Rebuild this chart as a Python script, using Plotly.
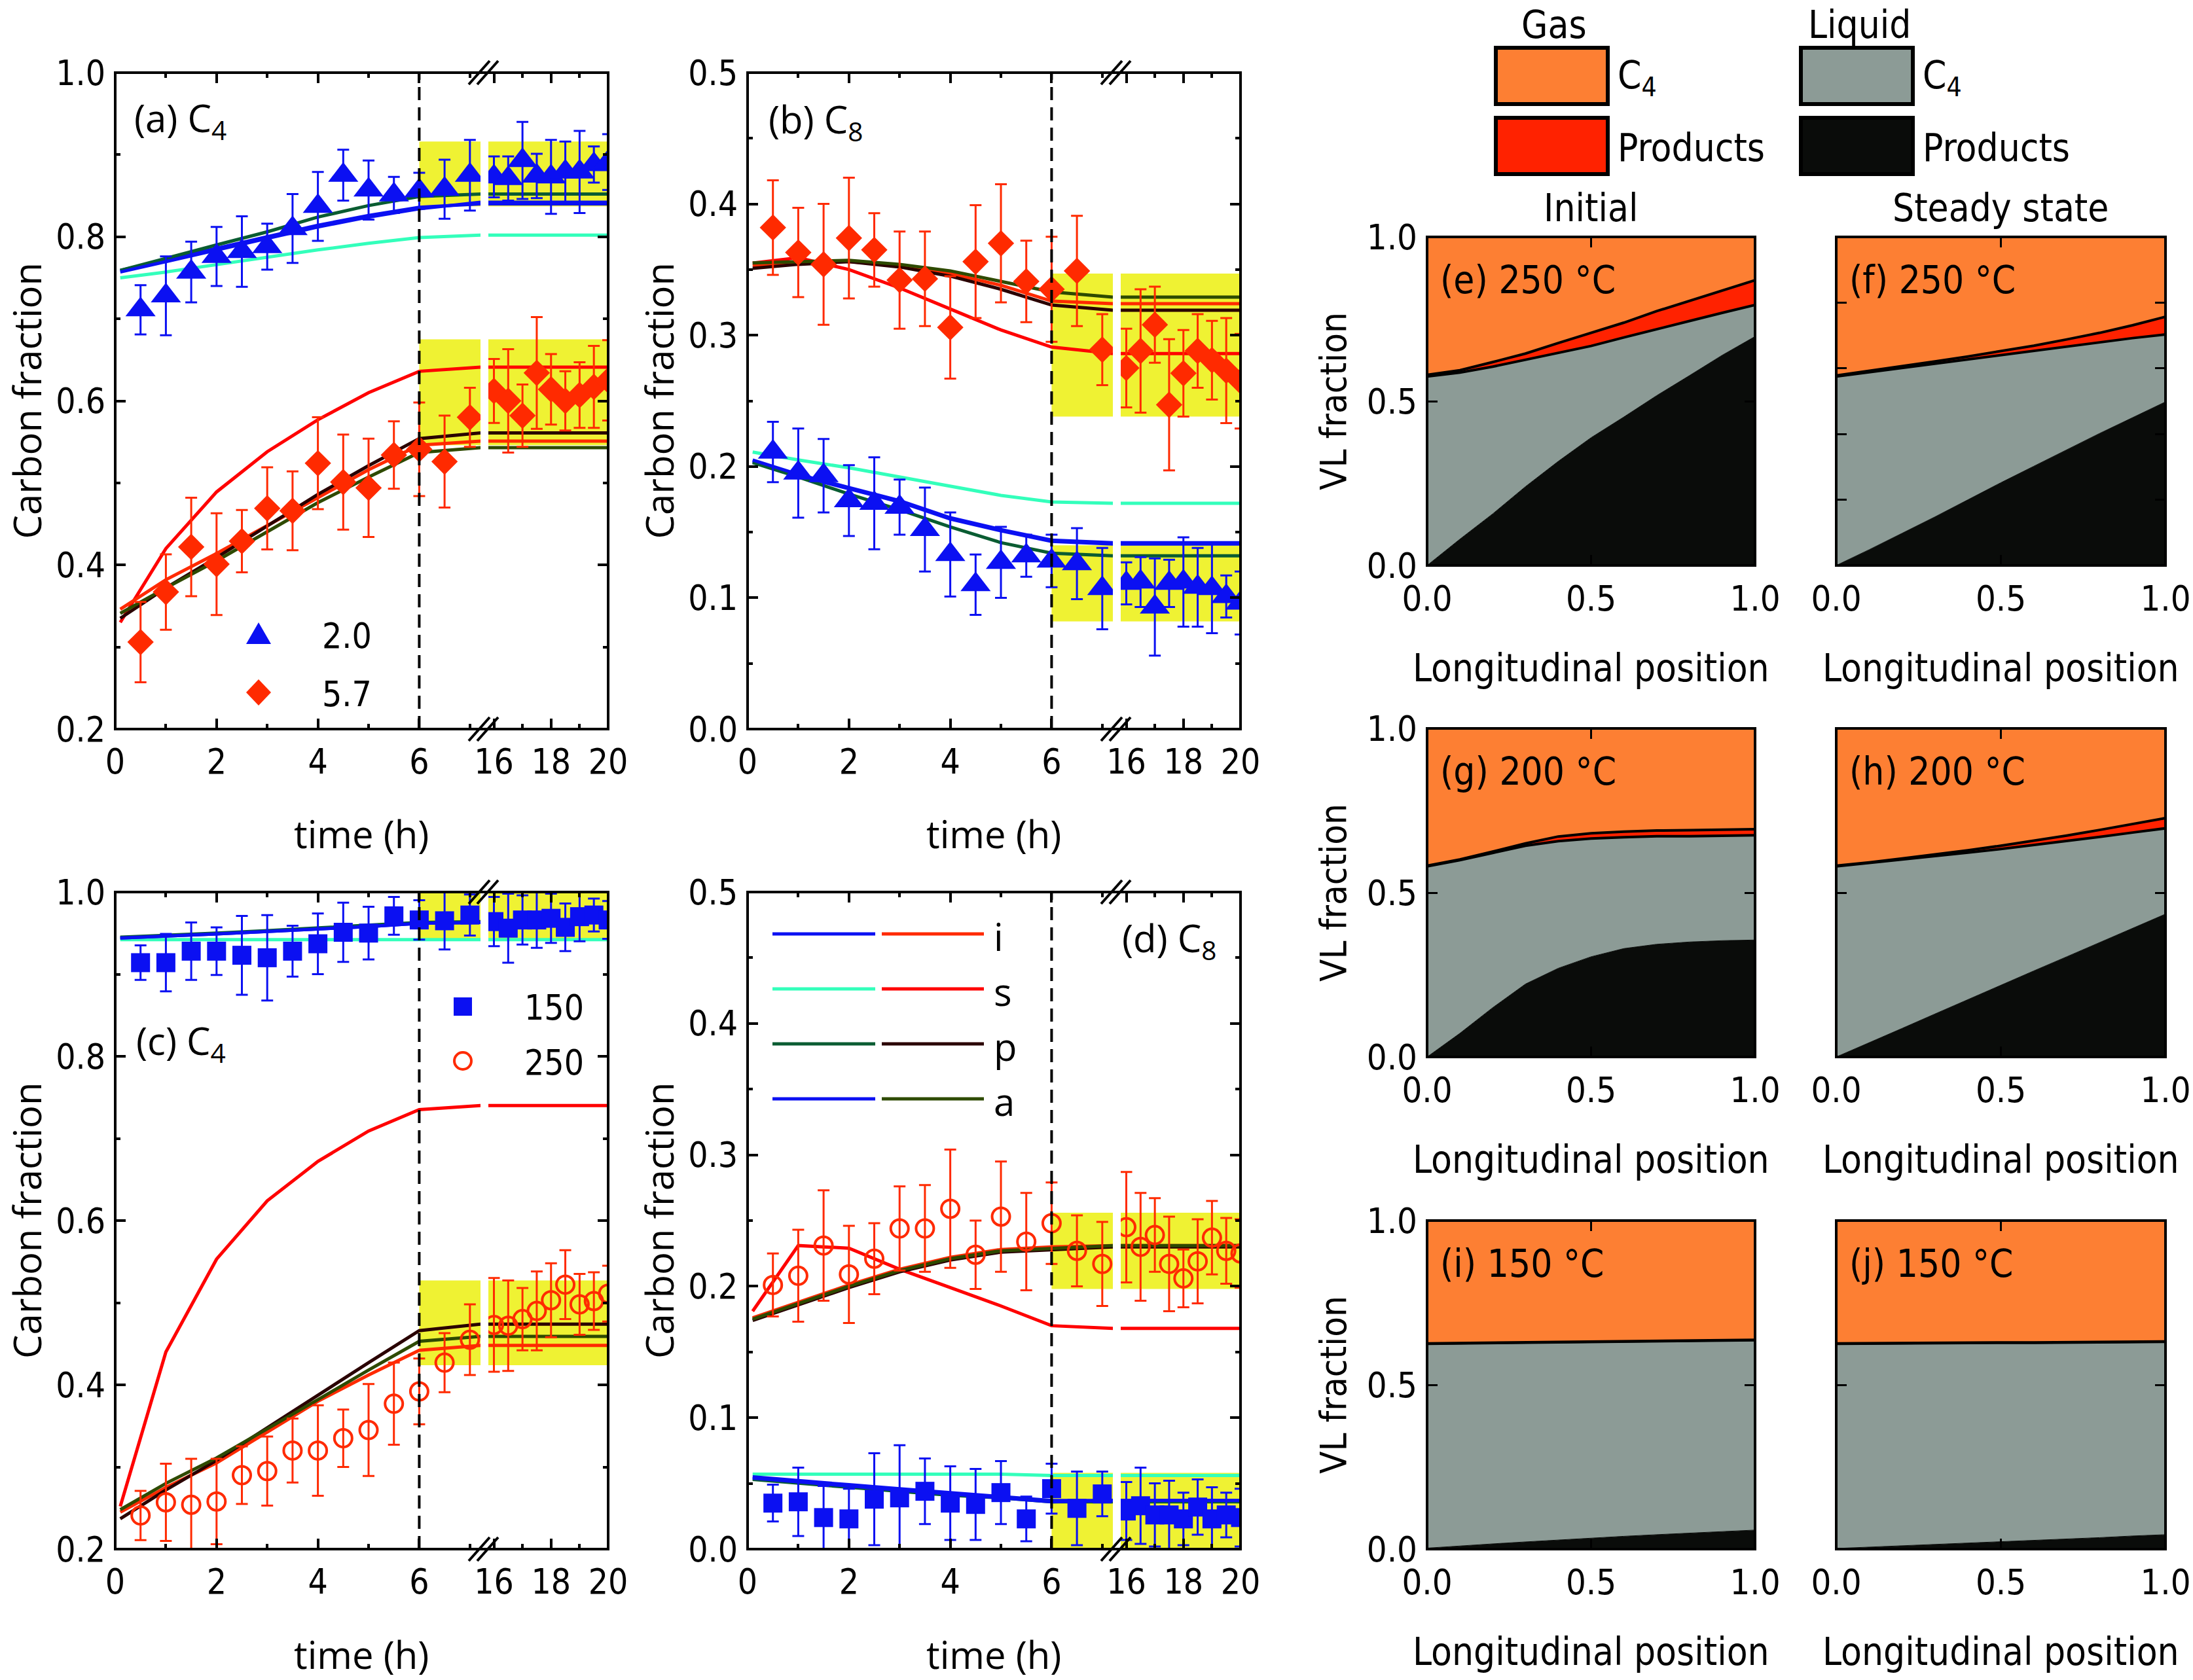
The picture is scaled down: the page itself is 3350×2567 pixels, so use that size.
import plotly.graph_objects as go

W, H = 3350, 2567

# ---------------- data ----------------
T_EXP = [0.5, 1.0, 1.5, 2.0, 2.5, 3.0, 3.5, 4.0, 4.5, 5.0, 5.5, 6.0, 6.5, 7.0,
         16.0, 16.5, 17.0, 17.5, 18.0, 18.5, 19.0, 19.5, 20.0]
T_MODEL = [0.1, 1, 2, 3, 4, 5, 6, 7.21, 15.8, 20]
LEFT_RANGE = [0, 7.209]
RIGHT_RANGE = [15.805, 20]

# (a) C4, H2/C4 = 2.0 (blue) and 5.7 (red)
A_BLUE = [0.711, 0.728, 0.757, 0.776, 0.782, 0.788, 0.810, 0.837, 0.875, 0.857, 0.851, 0.856, 0.858, 0.875,
          0.873, 0.871, 0.893, 0.874, 0.873, 0.879, 0.879, 0.888, 0.891]
A_BLUE_ERR = [0.030, 0.048, 0.037, 0.036, 0.043, 0.028, 0.042, 0.042, 0.031, 0.036, 0.022, 0.022, 0.036, 0.043,
              0.025, 0.027, 0.047, 0.027, 0.045, 0.037, 0.050, 0.022, 0.034]
A_RED = [0.306, 0.367, 0.422, 0.401, 0.429, 0.469, 0.466, 0.524, 0.501, 0.494, 0.534, 0.541, 0.526, 0.580,
         0.612, 0.600, 0.582, 0.634, 0.614, 0.600, 0.607, 0.617, 0.625]
A_RED_ERR = [0.049, 0.046, 0.060, 0.062, 0.038, 0.050, 0.048, 0.056, 0.058, 0.060, 0.041, 0.057, 0.056, 0.036,
             0.039, 0.063, 0.038, 0.068, 0.043, 0.036, 0.040, 0.050, 0.049]
A_I1 = [0.759, 0.772, 0.786, 0.800, 0.814, 0.826, 0.836, 0.840, 0.840, 0.840]
A_S1 = [0.750, 0.757, 0.766, 0.775, 0.784, 0.792, 0.799, 0.802, 0.802, 0.802]
A_P1 = [0.759, 0.774, 0.790, 0.806, 0.824, 0.838, 0.849, 0.852, 0.852, 0.852]
A_A1 = [0.757, 0.770, 0.784, 0.798, 0.812, 0.824, 0.834, 0.842, 0.842, 0.842]
A_I2 = [0.346, 0.382, 0.414, 0.448, 0.482, 0.516, 0.546, 0.551, 0.551, 0.551]
A_S2 = [0.330, 0.420, 0.489, 0.538, 0.577, 0.610, 0.636, 0.641, 0.641, 0.641]
A_P2 = [0.335, 0.372, 0.409, 0.448, 0.486, 0.521, 0.554, 0.561, 0.561, 0.561]
A_A2 = [0.341, 0.372, 0.405, 0.441, 0.476, 0.507, 0.537, 0.543, 0.543, 0.543]
A_BAND_BLUE = [0.837, 0.916]
A_BAND_RED = [0.546, 0.675]

# (b) C8
B_RED = [0.382, 0.363, 0.354, 0.374, 0.365, 0.342, 0.343, 0.306, 0.356, 0.370, 0.341, 0.335, 0.349, 0.289,
         0.275, 0.288, 0.308, 0.247, 0.271, 0.288, 0.281, 0.273, 0.265]
B_RED_ERR = [0.036, 0.034, 0.046, 0.046, 0.028, 0.037, 0.036, 0.039, 0.043, 0.045, 0.031, 0.040, 0.042, 0.027,
             0.030, 0.047, 0.029, 0.050, 0.033, 0.028, 0.030, 0.040, 0.036]
B_BLUE = [0.211, 0.195, 0.193, 0.174, 0.172, 0.169, 0.152, 0.133, 0.110, 0.127, 0.132, 0.128, 0.126, 0.107,
          0.111, 0.112, 0.093, 0.111, 0.112, 0.108, 0.107, 0.101, 0.096]
B_BLUE_ERR = [0.023, 0.034, 0.028, 0.027, 0.035, 0.021, 0.032, 0.032, 0.023, 0.027, 0.016, 0.020, 0.027, 0.031,
              0.016, 0.019, 0.037, 0.018, 0.034, 0.030, 0.034, 0.016, 0.024]
B_I1 = [0.204, 0.193, 0.183, 0.173, 0.160, 0.151, 0.143, 0.141, 0.141, 0.141]
B_S1 = [0.211, 0.205, 0.199, 0.192, 0.185, 0.178, 0.173, 0.172, 0.172, 0.172]
B_P1 = [0.203, 0.192, 0.179, 0.167, 0.154, 0.142, 0.134, 0.132, 0.132, 0.132]
B_A1 = [0.205, 0.194, 0.184, 0.174, 0.161, 0.152, 0.144, 0.142, 0.142, 0.142]
B_I2 = [0.353, 0.356, 0.356, 0.353, 0.347, 0.338, 0.326, 0.324, 0.324, 0.324]
B_S2 = [0.355, 0.359, 0.350, 0.336, 0.320, 0.304, 0.291, 0.286, 0.286, 0.286]
B_P2 = [0.351, 0.354, 0.356, 0.352, 0.345, 0.335, 0.323, 0.319, 0.319, 0.319]
B_A2 = [0.355, 0.356, 0.357, 0.354, 0.349, 0.341, 0.333, 0.329, 0.329, 0.329]
B_BAND_RED = [0.238, 0.347]
B_BAND_BLUE = [0.082, 0.140]

# (c) C4, T = 150 (blue) and 250 (red)
C_BLUE = [0.914, 0.914, 0.928, 0.928, 0.923, 0.920, 0.928, 0.937, 0.951, 0.950, 0.971, 0.966, 0.965, 0.972,
          0.964, 0.956, 0.966, 0.966, 0.968, 0.957, 0.970, 0.972, 0.966]
C_BLUE_ERR = [0.021, 0.035, 0.035, 0.029, 0.048, 0.052, 0.031, 0.037, 0.036, 0.032, 0.023, 0.024, 0.035, 0.025,
              0.030, 0.042, 0.030, 0.034, 0.030, 0.029, 0.030, 0.020, 0.023]
C_RED = [0.241, 0.257, 0.254, 0.258, 0.290, 0.295, 0.320, 0.320, 0.335, 0.345, 0.377, 0.392, 0.427, 0.455,
         0.473, 0.472, 0.480, 0.490, 0.503, 0.522, 0.498, 0.502, 0.511]
C_RED_ERR = [0.030, 0.047, 0.056, 0.052, 0.035, 0.042, 0.039, 0.055, 0.035, 0.056, 0.050, 0.040, 0.036, 0.043,
             0.057, 0.055, 0.038, 0.048, 0.045, 0.042, 0.037, 0.035, 0.034]
C_I1 = [0.944, 0.946, 0.949, 0.952, 0.955, 0.958, 0.962, 0.963, 0.963, 0.963]
C_S1 = [0.942, 0.942, 0.942, 0.942, 0.942, 0.942, 0.942, 0.942, 0.942, 0.942]
C_P1 = [0.945, 0.947, 0.950, 0.953, 0.956, 0.960, 0.963, 0.964, 0.964, 0.964]
C_A1 = [0.944, 0.946, 0.949, 0.952, 0.955, 0.958, 0.962, 0.963, 0.963, 0.963]
C_I2 = [0.245, 0.275, 0.305, 0.343, 0.380, 0.412, 0.442, 0.448, 0.448, 0.448]
C_S2 = [0.252, 0.440, 0.553, 0.624, 0.672, 0.709, 0.735, 0.740, 0.740, 0.740]
C_P2 = [0.237, 0.272, 0.308, 0.348, 0.387, 0.427, 0.466, 0.474, 0.474, 0.474]
C_A2 = [0.248, 0.280, 0.311, 0.346, 0.382, 0.418, 0.453, 0.459, 0.459, 0.459]
C_BAND_BLUE = [0.941, 1.0]
C_BAND_RED = [0.424, 0.527]

# (d) C8
D_RED = [0.201, 0.208, 0.231, 0.209, 0.221, 0.244, 0.244, 0.259, 0.224, 0.253, 0.234, 0.248, 0.227, 0.217,
         0.245, 0.230, 0.239, 0.217, 0.206, 0.219, 0.237, 0.227, 0.225]
D_RED_ERR = [0.024, 0.035, 0.042, 0.037, 0.027, 0.032, 0.033, 0.045, 0.026, 0.042, 0.037, 0.031, 0.027, 0.032,
             0.042, 0.041, 0.028, 0.036, 0.022, 0.032, 0.028, 0.025, 0.026]
D_BLUE = [0.035, 0.036, 0.024, 0.023, 0.038, 0.039, 0.044, 0.035, 0.034, 0.043, 0.023, 0.046, 0.031, 0.042,
          0.029, 0.033, 0.026, 0.026, 0.023, 0.032, 0.023, 0.026, 0.024]
D_BLUE_ERR = [0.014, 0.026, 0.024, 0.023, 0.035, 0.040, 0.025, 0.028, 0.027, 0.024, 0.017, 0.019, 0.028, 0.017,
              0.022, 0.029, 0.024, 0.026, 0.020, 0.021, 0.024, 0.017, 0.022]
D_I1 = [0.055, 0.052, 0.049, 0.046, 0.043, 0.040, 0.037, 0.037, 0.037, 0.037]
D_S1 = [0.057, 0.057, 0.057, 0.057, 0.057, 0.057, 0.056, 0.056, 0.056, 0.056]
D_P1 = [0.053, 0.050, 0.047, 0.044, 0.041, 0.039, 0.036, 0.036, 0.036, 0.036]
D_A1 = [0.054, 0.051, 0.048, 0.045, 0.042, 0.039, 0.036, 0.037, 0.037, 0.037]
D_I2 = [0.176, 0.188, 0.201, 0.213, 0.222, 0.228, 0.230, 0.231, 0.231, 0.231]
D_S2 = [0.181, 0.231, 0.229, 0.213, 0.199, 0.185, 0.170, 0.168, 0.168, 0.168]
D_P2 = [0.174, 0.186, 0.199, 0.211, 0.220, 0.226, 0.228, 0.230, 0.230, 0.230]
D_A2 = [0.175, 0.187, 0.200, 0.212, 0.221, 0.227, 0.229, 0.231, 0.231, 0.231]
D_BAND_RED = [0.198, 0.256]
D_BAND_BLUE = [0.0, 0.058]

# (e)-(j) VL fractions along reactor: cumulative boundaries
X_POS = [0.0, 0.1, 0.2, 0.3, 0.4, 0.5, 0.6, 0.7, 0.8, 0.9, 1.0]
TOTAL = [1.0, 1.0, 1.0, 1.0, 1.0, 1.0, 1.0, 1.0, 1.0, 1.0, 1.0]
E_LIQ_PROD = [0.0, 0.080, 0.157, 0.240, 0.317, 0.389, 0.452, 0.517, 0.578, 0.640, 0.697]
E_LIQ_TOP = [0.575, 0.587, 0.605, 0.626, 0.645, 0.668, 0.694, 0.720, 0.744, 0.769, 0.793]
E_GAS_PROD_TOP = [0.580, 0.594, 0.619, 0.645, 0.677, 0.708, 0.739, 0.774, 0.805, 0.836, 0.868]
F_LIQ_PROD = [0.0, 0.048, 0.098, 0.148, 0.200, 0.252, 0.302, 0.352, 0.402, 0.450, 0.498]
F_LIQ_TOP = [0.575, 0.588, 0.601, 0.614, 0.627, 0.641, 0.654, 0.667, 0.680, 0.692, 0.703]
F_GAS_PROD_TOP = [0.578, 0.592, 0.606, 0.621, 0.636, 0.652, 0.669, 0.688, 0.708, 0.731, 0.757]
G_LIQ_PROD = [0.0, 0.072, 0.150, 0.222, 0.270, 0.305, 0.330, 0.343, 0.350, 0.354, 0.356]
G_LIQ_TOP = [0.580, 0.599, 0.621, 0.643, 0.657, 0.665, 0.669, 0.672, 0.672, 0.673, 0.675]
G_GAS_PROD_TOP = [0.582, 0.601, 0.625, 0.650, 0.671, 0.681, 0.686, 0.689, 0.690, 0.691, 0.693]
H_LIQ_PROD = [0.0, 0.043, 0.087, 0.131, 0.175, 0.219, 0.262, 0.305, 0.348, 0.392, 0.435]
H_LIQ_TOP = [0.580, 0.590, 0.601, 0.611, 0.622, 0.633, 0.645, 0.657, 0.670, 0.683, 0.696]
H_GAS_PROD_TOP = [0.582, 0.592, 0.604, 0.616, 0.629, 0.643, 0.658, 0.674, 0.691, 0.709, 0.727]
I_LIQ_PROD = [0.003, 0.010, 0.016, 0.022, 0.028, 0.034, 0.039, 0.044, 0.049, 0.054, 0.058]
I_LIQ_TOP = [0.625, 0.626, 0.627, 0.628, 0.629, 0.630, 0.631, 0.632, 0.634, 0.635, 0.636]
I_GAS_PROD_TOP = [0.626, 0.627, 0.628, 0.629, 0.630, 0.631, 0.632, 0.633, 0.635, 0.636, 0.637]
J_LIQ_PROD = [0.002, 0.006, 0.011, 0.015, 0.019, 0.022, 0.026, 0.031, 0.035, 0.040, 0.044]
J_LIQ_TOP = [0.625, 0.626, 0.626, 0.627, 0.627, 0.628, 0.628, 0.629, 0.629, 0.630, 0.631]
J_GAS_PROD_TOP = [0.626, 0.627, 0.627, 0.628, 0.628, 0.629, 0.629, 0.630, 0.630, 0.631, 0.632]

LEGEND_A = ["2.0", "5.7"]
LEGEND_C = ["150", "250"]
MODEL_NAMES = ["i", "s", "p", "a"]

# ---------------- styles ----------------
BLUE = "#0b10f2"
CYAN = "#33ffbb"
DKGREEN = "#0a5c32"
ORED = "#ff2a00"
RED = "#ff0000"
DKBROWN = "#2a0000"
OLIVE = "#2e4a00"
YELLOW = "#eff233"
GAS_C4 = "#fd7f33"
GAS_PROD = "#ff2200"
LIQ_C4 = "#8c9b96"
LIQ_PROD = "#0a0c0a"

SET1 = [BLUE, CYAN, DKGREEN, BLUE]
SET2 = [ORED, RED, DKBROWN, OLIVE]

TICK_FONT = dict(family="DejaVu Sans Condensed, DejaVu Sans", size=53, color="black")
TITLE_FONT = dict(family="Open Sans", size=58, color="black")
LABEL_FONT = dict(family="Open Sans", size=58, color="black")
NARROW = "Liberation Sans Narrow, Arial Narrow, DejaVu Sans Condensed, Liberation Sans"
NARROW_TICK = dict(family=NARROW, size=54, color="black")
NARROW_TXT = dict(family=NARROW, size=58, color="black")


def X(px):
    return px / W


def Y(py):
    return 1 - py / H


def ref(kind, n):
    return kind if n == 1 else f"{kind}{n}"


def axkey(kind, n):
    return f"{kind}axis" if n == 1 else f"{kind}axis{n}"


fig = go.Figure()
layout = dict(template="none", width=W, height=H, autosize=False, margin=dict(l=0, r=0, t=0, b=0, pad=0),
              paper_bgcolor="white", plot_bgcolor="rgba(0,0,0,0)", showlegend=False)
shapes = []
annotations = []

# ---------------- left panels ----------------
LEFT_PANELS = [
    dict(L=176, T=111, B=1114, yr=[0.2, 1.0], major=[0.2, 0.4, 0.6, 0.8, 1.0], minor=[0.3, 0.5, 0.7, 0.9],
         exp=[(A_BLUE, A_BLUE_ERR, "triangle-up", 40, BLUE, False), (A_RED, A_RED_ERR, "diamond", 31, ORED, False)],
         m1=[A_I1, A_S1, A_P1, A_A1], m2=[A_I2, A_S2, A_P2, A_A2], bands=[A_BAND_BLUE, A_BAND_RED],
         label="(a) C<sub>4</sub>", lx=203, ly=183),
    dict(L=1142, T=111, B=1114, yr=[0.0, 0.5], major=[0.0, 0.1, 0.2, 0.3, 0.4, 0.5],
         minor=[0.05, 0.15, 0.25, 0.35, 0.45],
         exp=[(B_RED, B_RED_ERR, "diamond", 31, ORED, False), (B_BLUE, B_BLUE_ERR, "triangle-up", 40, BLUE, False)],
         m1=[B_I1, B_S1, B_P1, B_A1], m2=[B_I2, B_S2, B_P2, B_A2], bands=[B_BAND_RED, B_BAND_BLUE],
         label="(b) C<sub>8</sub>", lx=1172, ly=185),
    dict(L=176, T=1363, B=2367, yr=[0.2, 1.0], major=[0.2, 0.4, 0.6, 0.8, 1.0], minor=[0.3, 0.5, 0.7, 0.9],
         exp=[(C_BLUE, C_BLUE_ERR, "square", 29, BLUE, False), (C_RED, C_RED_ERR, "circle-open", 27, ORED, True)],
         m1=[C_I1, C_S1, C_P1, C_A1], m2=[C_I2, C_S2, C_P2, C_A2], bands=[C_BAND_BLUE, C_BAND_RED],
         label="(c) C<sub>4</sub>", lx=206, ly=1593),
    dict(L=1142, T=1363, B=2367, yr=[0.0, 0.5], major=[0.0, 0.1, 0.2, 0.3, 0.4, 0.5],
         minor=[0.05, 0.15, 0.25, 0.35, 0.45],
         exp=[(D_RED, D_RED_ERR, "circle-open", 27, ORED, True), (D_BLUE, D_BLUE_ERR, "square", 29, BLUE, False)],
         m1=[D_I1, D_S1, D_P1, D_A1], m2=[D_I2, D_S2, D_P2, D_A2], bands=[D_BAND_RED, D_BAND_BLUE],
         label="(d) C<sub>8</sub>", lx=1712, ly=1436),
]


def idx_left(t):
    return [k for k, tk in enumerate(t) if tk <= LEFT_RANGE[1] + 0.01]


def idx_right(t):
    return [k for k, tk in enumerate(t) if tk >= RIGHT_RANGE[0] - 0.01]


for p, P in enumerate(LEFT_PANELS):
    nL, nR = 2 * p + 1, 2 * p + 2
    L, T, B = P["L"], P["T"], P["B"]
    ydom = [Y(B), Y(T)]
    common_x = dict(ticks="inside", ticklen=16, tickwidth=4, tickcolor="black", mirror="ticks",
                    showline=False, showgrid=False, zeroline=False, tickfont=TICK_FONT, automargin=False,
                    ticklabelstandoff=14, tickmode="array")
    layout[axkey("x", nL)] = dict(common_x, domain=[X(L), X(L + 558)], range=LEFT_RANGE, anchor=ref("y", nL),
                                  tickvals=[0, 2, 4, 6],
                                  minor=dict(tickmode="array", tickvals=[1, 3, 5, 7], ticks="inside",
                                             ticklen=8, tickwidth=4, tickcolor="black"))
    layout[axkey("x", nR)] = dict(common_x, domain=[X(L + 570), X(L + 753)], range=RIGHT_RANGE,
                                  anchor=ref("y", nR), tickvals=[16, 18, 20],
                                  minor=dict(tickmode="array", tickvals=[17, 19], ticks="inside",
                                             ticklen=8, tickwidth=4, tickcolor="black"))
    common_y = dict(domain=ydom, range=P["yr"], ticks="inside", ticklen=16, tickwidth=4, tickcolor="black",
                    showline=False, showgrid=False, zeroline=False, tickmode="array", tickvals=P["major"],
                    tickformat=".1f", tickfont=TICK_FONT, ticklabelstandoff=14, automargin=False,
                    minor=dict(tickmode="array", tickvals=P["minor"], ticks="inside", ticklen=8,
                               tickwidth=4, tickcolor="black"))
    layout[axkey("y", nL)] = dict(common_y, anchor=ref("x", nL), side="left")
    layout[axkey("y", nR)] = dict(common_y, anchor=ref("x", nR), side="right", showticklabels=False)

    # yellow steady-state bands
    for band in P["bands"]:
        shapes.append(dict(type="rect", xref=ref("x", nL), yref=ref("y", nL), x0=6, x1=LEFT_RANGE[1] + 1,
                           y0=band[0], y1=band[1], fillcolor=YELLOW, line=dict(width=0), layer="below"))
        shapes.append(dict(type="rect", xref=ref("x", nR), yref=ref("y", nR), x0=RIGHT_RANGE[0] - 1, x1=20,
                           y0=band[0], y1=band[1], fillcolor=YELLOW, line=dict(width=0), layer="below"))

    # model lines
    for vals_set, colors in ((P["m1"], SET1), (P["m2"], SET2)):
        for order in (1, 0, 2, 3):
            vals = vals_set[order]
            for n, idx in ((nL, idx_left(T_MODEL)), (nR, idx_right(T_MODEL))):
                fig.add_trace(go.Scatter(x=[T_MODEL[k] for k in idx], y=[vals[k] for k in idx],
                                         mode="lines", line=dict(color=colors[order], width=5),
                                         xaxis=ref("x", n), yaxis=ref("y", n), hoverinfo="skip"))

    # experimental data
    for vals, errs, sym, size, color, is_open in P["exp"]:
        for n, idx in ((nL, idx_left(T_EXP)), (nR, idx_right(T_EXP))):
            marker = dict(symbol=sym, size=size, color=color)
            if is_open:
                marker["line"] = dict(color=color, width=4)
            else:
                marker["line"] = dict(width=0)
            fig.add_trace(go.Scatter(x=[T_EXP[k] for k in idx], y=[vals[k] for k in idx], mode="markers",
                                     marker=marker,
                                     error_y=dict(type="data", array=[errs[k] for k in idx], color=color,
                                                  thickness=3, width=9),
                                     xaxis=ref("x", n), yaxis=ref("y", n), hoverinfo="skip"))

    # dashed line at t = 6 h
    shapes.append(dict(type="line", xref=ref("x", nL), yref=ref("y", nL) + " domain", x0=6, x1=6, y0=0, y1=1,
                       line=dict(color="black", width=4, dash="20px,11px"), layer="above"))
    # frame
    shapes.append(dict(type="rect", xref="paper", yref="paper", x0=X(L), x1=X(L + 753), y0=Y(B), y1=Y(T),
                       line=dict(color="black", width=4), layer="above"))
    # axis-break marks
    gx = L + 564
    for yy in (T, B):
        for k in (0, 1):
            shapes.append(dict(type="line", xref="paper", yref="paper",
                               x0=X(gx - 24 + 13 * k), y0=Y(yy + 18), x1=X(gx + 8 + 13 * k), y1=Y(yy - 18),
                               line=dict(color="black", width=4), layer="above"))
    # texts
    annotations.append(dict(text=P["label"], x=X(P["lx"]), y=Y(P["ly"]), xref="paper", yref="paper",
                            xanchor="left", yanchor="middle", showarrow=False, font=LABEL_FONT))
    annotations.append(dict(text="Carbon fraction", x=X(L - 136), y=Y((T + B) / 2), xref="paper", yref="paper",
                            xanchor="center", yanchor="middle", textangle=-90, showarrow=False, font=TITLE_FONT))
    annotations.append(dict(text="time (h)", x=X(L + 376), y=Y(B + 160), xref="paper", yref="paper",
                            xanchor="center", yanchor="middle", showarrow=False, font=TITLE_FONT))

# legend symbols in (a)
cx, cy = 395, 968
shapes.append(dict(type="path", xref="paper", yref="paper",
                   path=f"M {X(cx-19)},{Y(cy+16)} L {X(cx+19)},{Y(cy+16)} L {X(cx)},{Y(cy-17)} Z",
                   fillcolor=BLUE, line=dict(width=0), layer="above"))
cx, cy = 395, 1058
shapes.append(dict(type="path", xref="paper", yref="paper",
                   path=f"M {X(cx-19)},{Y(cy)} L {X(cx)},{Y(cy-20)} L {X(cx+19)},{Y(cy)} L {X(cx)},{Y(cy+20)} Z",
                   fillcolor=ORED, line=dict(width=0), layer="above"))
for txt, yy in zip(LEGEND_A, (972, 1060)):
    annotations.append(dict(text=txt, x=X(490), y=Y(yy), xref="paper", yref="paper", xanchor="left",
                            yanchor="middle", showarrow=False, font=TICK_FONT))
# legend symbols in (c)
shapes.append(dict(type="rect", xref="paper", yref="paper", x0=X(693), x1=X(721), y0=Y(1552), y1=Y(1524),
                   fillcolor=BLUE, line=dict(width=0), layer="above"))
shapes.append(dict(type="circle", xref="paper", yref="paper", x0=X(694), x1=X(720), y0=Y(1634), y1=Y(1608),
                   fillcolor="rgba(0,0,0,0)", line=dict(color=ORED, width=4), layer="above"))
for txt, yy in zip(LEGEND_C, (1540, 1623)):
    annotations.append(dict(text=txt, x=X(799), y=Y(yy), xref="paper", yref="paper", xanchor="left",
                            yanchor="middle", showarrow=False, font=TICK_FONT))
# model legend in (d)
for r, name in enumerate(MODEL_NAMES):
    yy = 1427 + 84 * r
    shapes.append(dict(type="line", xref="paper", yref="paper", x0=X(1180), x1=X(1337), y0=Y(yy), y1=Y(yy),
                       line=dict(color=SET1[r], width=5), layer="above"))
    shapes.append(dict(type="line", xref="paper", yref="paper", x0=X(1347), x1=X(1503), y0=Y(yy), y1=Y(yy),
                       line=dict(color=SET2[r], width=5), layer="above"))
    annotations.append(dict(text=name, x=X(1516), y=Y(yy + 3), xref="paper", yref="paper", xanchor="left",
                            yanchor="middle", showarrow=False, font=LABEL_FONT))

# ---------------- right panels ----------------
COLS = [(2180, 2681), (2805, 3308)]
ROWS = [(362, 864), (1113, 1615), (1865, 2367)]
RIGHT_PANELS = [
    (E_LIQ_PROD, E_LIQ_TOP, E_GAS_PROD_TOP, "(e) 250 °C"),
    (F_LIQ_PROD, F_LIQ_TOP, F_GAS_PROD_TOP, "(f) 250 °C"),
    (G_LIQ_PROD, G_LIQ_TOP, G_GAS_PROD_TOP, "(g) 200 °C"),
    (H_LIQ_PROD, H_LIQ_TOP, H_GAS_PROD_TOP, "(h) 200 °C"),
    (I_LIQ_PROD, I_LIQ_TOP, I_GAS_PROD_TOP, "(i) 150 °C"),
    (J_LIQ_PROD, J_LIQ_TOP, J_GAS_PROD_TOP, "(j) 150 °C"),
]
for q, (lp, lt, gt, lab) in enumerate(RIGHT_PANELS):
    n = 9 + q
    col, row = q % 2, q // 2
    l, r = COLS[col]
    t, b = ROWS[row]
    layout[axkey("x", n)] = dict(domain=[X(l), X(r)], range=[0, 1], anchor=ref("y", n), tickmode="array",
                                 tickvals=[0, 0.5, 1], ticktext=["0.0", "0.5", "1.0"], ticks="inside",
                                 ticklen=16, tickwidth=3, tickcolor="black", mirror="ticks", showline=False,
                                 showgrid=False, zeroline=False, tickfont=NARROW_TICK, ticklabelstandoff=14,
                                 automargin=False)
    yt = [0.2, 0.4, 0.6, 0.8] if q == 1 else [0, 0.5, 1]
    layout[axkey("y", n)] = dict(domain=[Y(b), Y(t)], range=[0, 1], anchor=ref("x", n), tickmode="array",
                                 tickvals=yt, ticktext=["0.0", "0.5", "1.0"] if col == 0 else None,
                                 showticklabels=(col == 0), ticks="inside", ticklen=16, tickwidth=3,
                                 tickcolor="black", mirror="ticks", showline=False, showgrid=False,
                                 zeroline=False, tickfont=NARROW_TICK, ticklabelstandoff=14, automargin=False)
    xa, ya = ref("x", n), ref("y", n)
    fig.add_trace(go.Scatter(x=X_POS, y=lp, mode="lines", fill="tozeroy", fillcolor=LIQ_PROD,
                             line=dict(color=LIQ_PROD, width=1), xaxis=xa, yaxis=ya, hoverinfo="skip"))
    fig.add_trace(go.Scatter(x=X_POS, y=lt, mode="lines", fill="tonexty", fillcolor=LIQ_C4,
                             line=dict(color="black", width=4), xaxis=xa, yaxis=ya, hoverinfo="skip"))
    fig.add_trace(go.Scatter(x=X_POS, y=gt, mode="lines", fill="tonexty", fillcolor=GAS_PROD,
                             line=dict(color="black", width=4), xaxis=xa, yaxis=ya, hoverinfo="skip"))
    fig.add_trace(go.Scatter(x=X_POS, y=TOTAL, mode="lines", fill="tonexty", fillcolor=GAS_C4,
                             line=dict(color=GAS_C4, width=0), xaxis=xa, yaxis=ya, hoverinfo="skip"))
    shapes.append(dict(type="rect", xref="paper", yref="paper", x0=X(l), x1=X(r), y0=Y(b), y1=Y(t),
                       line=dict(color="black", width=4), layer="above"))
    annotations.append(dict(text=lab, x=X(l + 18), y=Y(t + 66), xref="paper", yref="paper", xanchor="left",
                            yanchor="middle", showarrow=False, font=NARROW_TXT))
    annotations.append(dict(text="Longitudinal position", x=X((l + r) / 2), y=Y(b + 157), xref="paper",
                            yref="paper", xanchor="center", yanchor="middle", showarrow=False, font=NARROW_TXT))
    if col == 0:
        annotations.append(dict(text="VL fraction", x=X(2036), y=Y((t + b) / 2), xref="paper", yref="paper",
                                xanchor="center", yanchor="middle", textangle=-90, showarrow=False,
                                font=dict(family="DejaVu Sans Condensed, DejaVu Sans", size=56, color="black")))

annotations.append(dict(text="Initial", x=X(2430), y=Y(318), xref="paper", yref="paper", xanchor="center",
                        yanchor="middle", showarrow=False, font=NARROW_TXT))
annotations.append(dict(text="Steady state", x=X(3056), y=Y(318), xref="paper", yref="paper", xanchor="center",
                        yanchor="middle", showarrow=False, font=NARROW_TXT))

# top-right legend
for hdr, cxh in (("Gas", 2374), ("Liquid", 2840)):
    annotations.append(dict(text=hdr, x=X(cxh), y=Y(38), xref="paper", yref="paper", xanchor="center",
                            yanchor="middle", showarrow=False, font=NARROW_TXT))
LEG_BOXES = [(2285, 73, GAS_C4, "C<sub>4</sub>"), (2285, 180, GAS_PROD, "Products"),
             (2751, 73, LIQ_C4, "C<sub>4</sub>"), (2751, 180, LIQ_PROD, "Products")]
for bx, by, colr, txt in LEG_BOXES:
    shapes.append(dict(type="rect", xref="paper", yref="paper", x0=X(bx), x1=X(bx + 171), y0=Y(by + 86),
                       y1=Y(by), fillcolor=colr, line=dict(color="black", width=6), layer="above"))
    annotations.append(dict(text=txt, x=X(bx + 184), y=Y(by + 46), xref="paper", yref="paper",
                            xanchor="left", yanchor="middle", showarrow=False, font=NARROW_TXT))

layout["shapes"] = shapes
layout["annotations"] = annotations
fig.update_layout(**layout)
fig.write_html("out.html", post_script="document.body.style.margin='0';")
